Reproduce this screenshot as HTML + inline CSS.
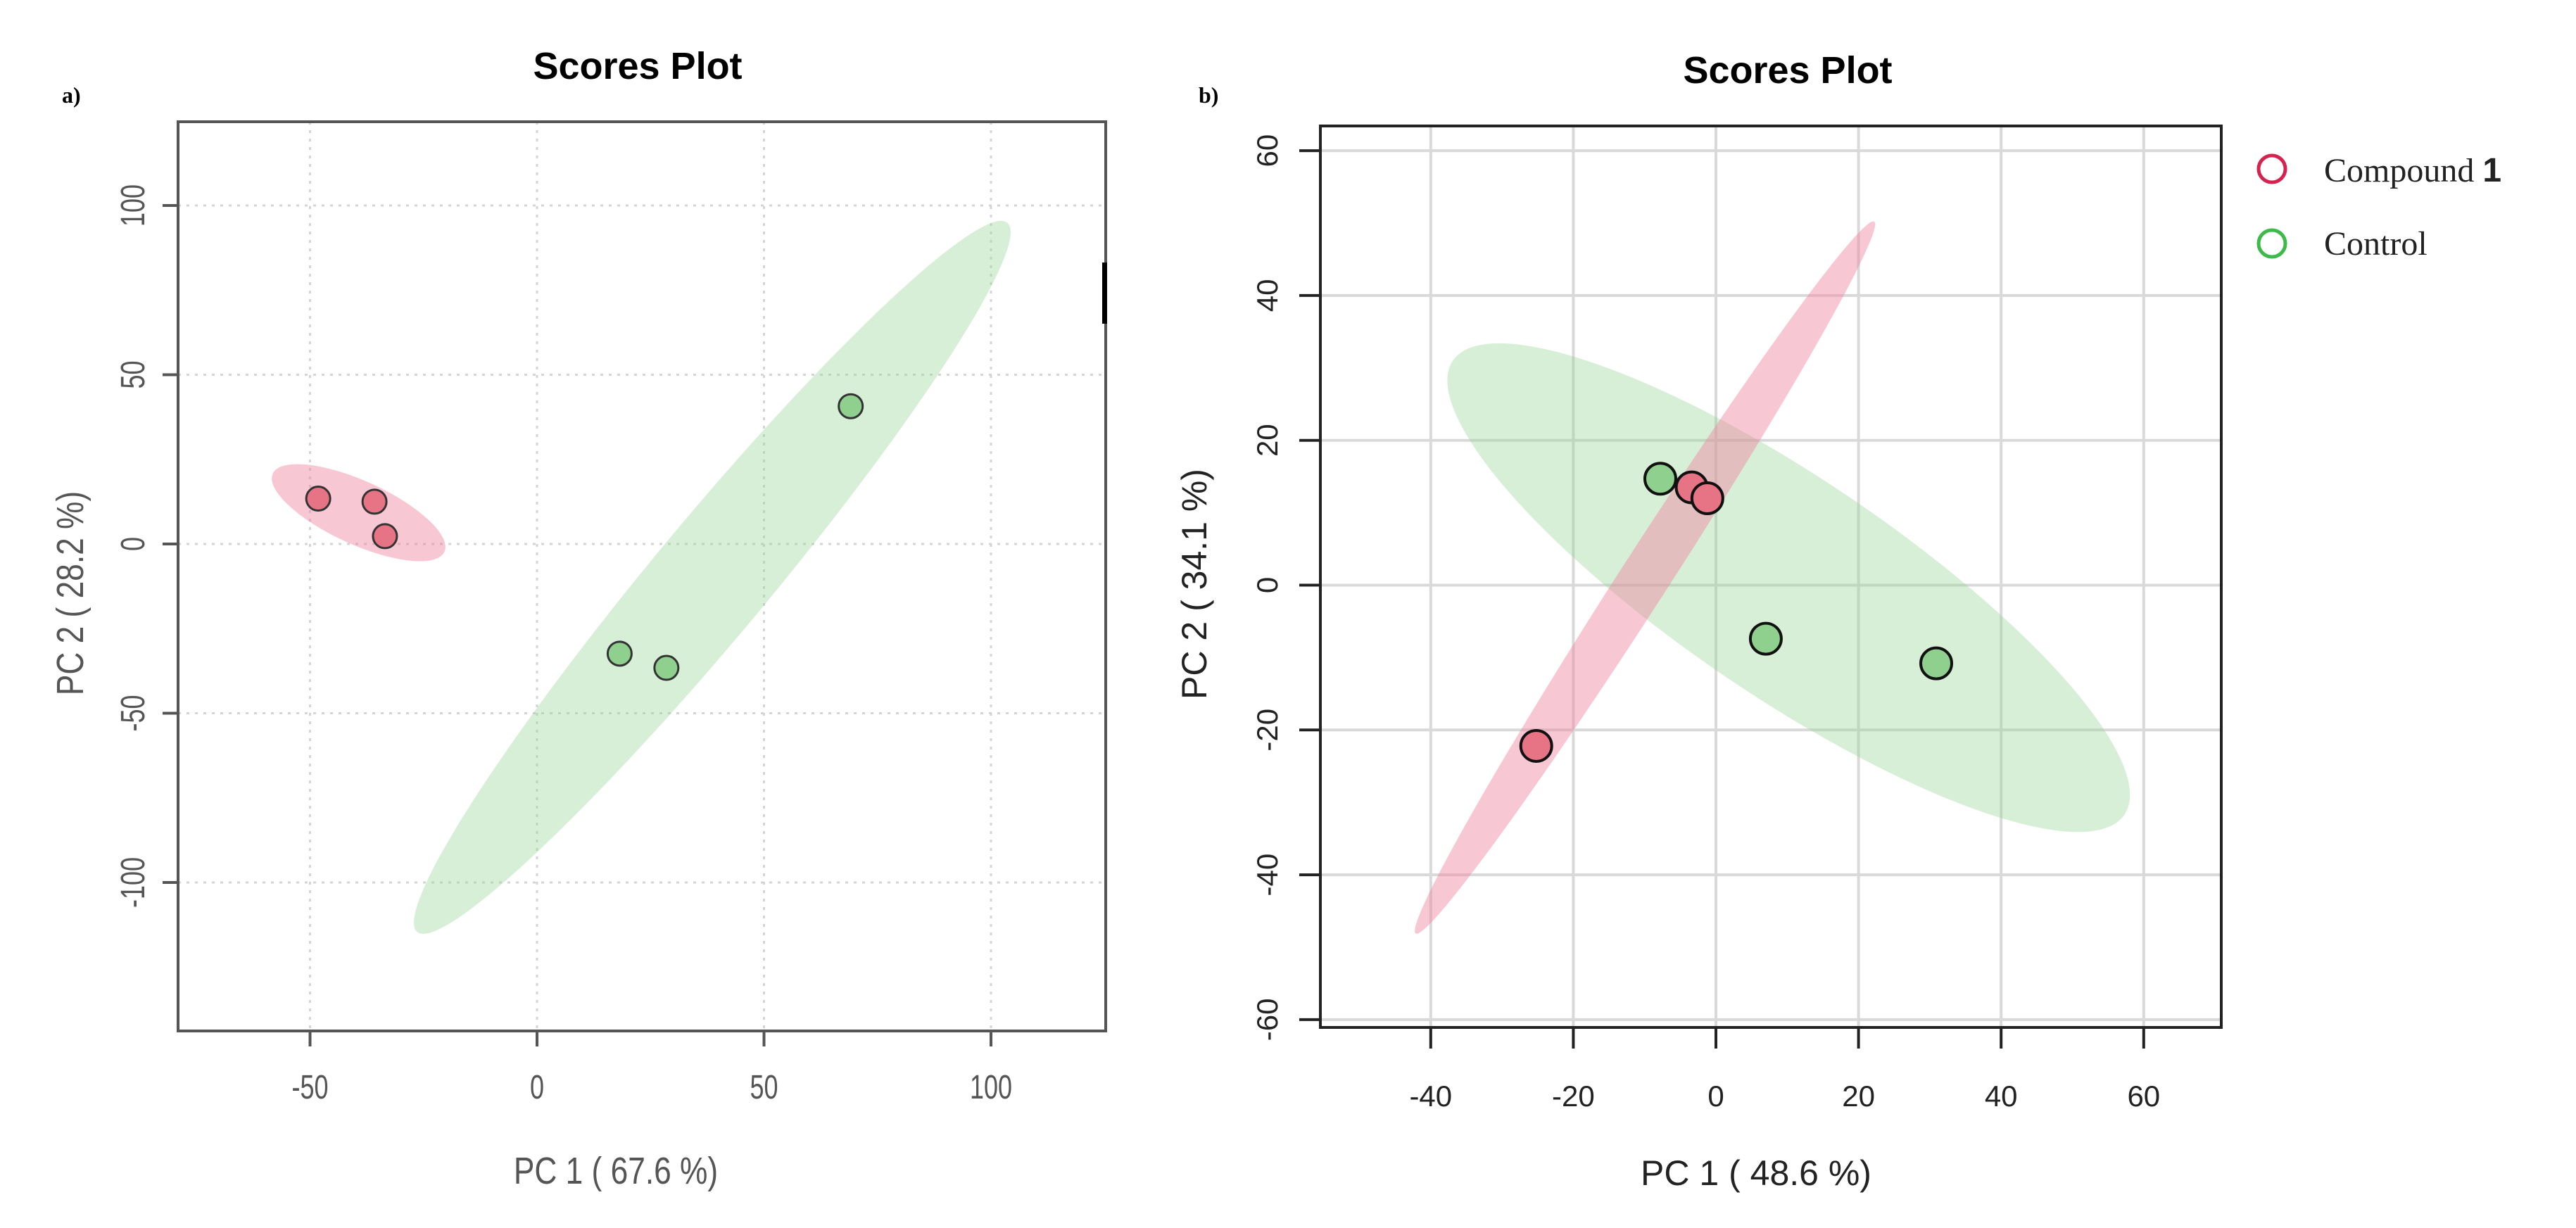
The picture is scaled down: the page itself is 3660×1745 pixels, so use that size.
<!DOCTYPE html>
<html><head><meta charset="utf-8"><style>
html,body{margin:0;padding:0;background:#fff;}
svg{display:block;}
</style></head><body>
<svg id="chart" width="3660" height="1745" viewBox="0 0 3660 1745" xmlns="http://www.w3.org/2000/svg">
<text x="906" y="112" text-anchor="middle" font-family="Liberation Sans, sans-serif" font-weight="bold" font-size="54" fill="#000">Scores Plot</text>
<text x="2540" y="118" text-anchor="middle" font-family="Liberation Sans, sans-serif" font-weight="bold" font-size="54" fill="#000">Scores Plot</text>
<text x="88" y="146" font-family="Liberation Serif, serif" font-weight="bold" font-size="32" fill="#000">a)</text>
<text x="1703" y="146" font-family="Liberation Serif, serif" font-weight="bold" font-size="32" fill="#000">b)</text>
<g id="left"></g>
<g id="right"></g>
<g>
<circle cx="3228" cy="240" r="19" fill="none" stroke="#d6224f" stroke-width="5"/>
<text x="3302" y="258" font-family="Liberation Serif, serif" font-size="48" fill="#222">Compound <tspan font-family="Liberation Sans, sans-serif" font-weight="bold">1</tspan></text>
<circle cx="3228" cy="346" r="19" fill="none" stroke="#3dba4a" stroke-width="5"/>
<text x="3302" y="362" font-family="Liberation Serif, serif" font-size="48" fill="#222">Control</text>
</g>
<rect x="1566" y="373" width="7" height="87" fill="#000"/>
</svg>
<script>
// ---- Left chart data ----
const leftXTicks = [-50, 0, 50, 100];
const leftYTicks = [-100, -50, 0, 50, 100];
const leftCompoundX = [-48.2, -35.8, -33.5];
const leftCompoundY = [13.4, 12.5, 2.3];
const leftControlX = [18.2, 28.5, 69.1];
const leftControlY = [-32.4, -36.6, 40.7];
// ellipse major-axis endpoints in data units
const leftCompoundEllipse = [-58.2, 20.8, -20.4, -2.3];
const leftControlEllipse = [103.6, 94.9, -26.4, -114.6];
// ---- Right chart data ----
const rightXTicks = [-40, -20, 0, 20, 40, 60];
const rightYTicks = [-60, -40, -20, 0, 20, 40, 60];
const rightCompoundX = [-3.4, -1.2, -25.2];
const rightCompoundY = [13.5, 12.0, -22.2];
const rightControlX = [-7.8, 7.0, 30.9];
const rightControlY = [14.7, -7.4, -10.8];
const rightCompoundEllipse = [22.2, 50.2, -42.1, -48.1];
const rightControlEllipse = [-36.9, 31.0, 57.3, -31.7];

const NS = "http://www.w3.org/2000/svg";
function mk(parent, tag, attrs){ const e=document.createElementNS(NS,tag); for(const k in attrs) e.setAttribute(k,attrs[k]); parent.appendChild(e); return e; }

function ellipse(g, sx, sy, ep, halfW, fill, name){
  const x1=sx(ep[0]), y1=sy(ep[1]), x2=sx(ep[2]), y2=sy(ep[3]);
  const cx=(x1+x2)/2, cy=(y1+y2)/2, a=Math.hypot(x2-x1,y2-y1)/2;
  const ang=Math.atan2(y2-y1,x2-x1)*180/Math.PI;
  const e=mk(g,'ellipse',{cx:cx,cy:cy,rx:a,ry:halfW,transform:`rotate(${ang} ${cx} ${cy})`,fill:fill});
  
  
}

// ---- Left ----
(function(){
  const g=document.getElementById('left');
  const L=253,R=1571,T=173,B=1465;
  const sx=v=>763+6.45*v, sy=v=>773-4.81*v;
  for(const t of leftXTicks){
    const l=mk(g,'line',{x1:sx(t),x2:sx(t),y1:T,y2:B,stroke:'#d4d4d4','stroke-width':3,'stroke-dasharray':'4 8'});
    
    
  }
  for(const t of leftYTicks){
    const l=mk(g,'line',{x1:L,x2:R,y1:sy(t),y2:sy(t),stroke:'#d4d4d4','stroke-width':3,'stroke-dasharray':'4 8'});
    
    
  }
  ellipse(g,sx,sy,leftControlEllipse,82,'rgba(150,212,150,0.38)','control-ellipse');
  ellipse(g,sx,sy,leftCompoundEllipse,45,'rgba(240,130,160,0.45)','compound-ellipse');
  leftCompoundX.forEach((v,i)=>{
    const c=mk(g,'circle',{cx:sx(v),cy:sy(leftCompoundY[i]),r:17,fill:'#e77485',stroke:'#333','stroke-width':3});
    
    
  });
  leftControlX.forEach((v,i)=>{
    const c=mk(g,'circle',{cx:sx(v),cy:sy(leftControlY[i]),r:17,fill:'#8fd08f',stroke:'#333','stroke-width':3});
    
    
  });
  const box=mk(g,'rect',{x:L,y:T,width:R-L,height:B-T,fill:'none',stroke:'#555','stroke-width':4});
  
  
  for(const t of leftXTicks){
    mk(g,'line',{x1:sx(t),x2:sx(t),y1:B,y2:B+22,stroke:'#555','stroke-width':4});
    const tx=mk(g,'text',{x:0,y:0,'text-anchor':'middle','font-family':'Liberation Sans, sans-serif','font-size':48,fill:'#555',transform:`translate(${sx(t)},${B+96}) scale(0.75,1)`});
    tx.textContent=t;
    
    
  }
  for(const t of leftYTicks){
    mk(g,'line',{x1:L-22,x2:L,y1:sy(t),y2:sy(t),stroke:'#555','stroke-width':4});
    const tx=mk(g,'text',{x:0,y:0,'text-anchor':'middle','font-family':'Liberation Sans, sans-serif','font-size':48,fill:'#555',transform:`translate(205,${sy(t)}) rotate(-90) scale(0.75,1)`});
    tx.textContent=t;
    
    
  }
  const xt=mk(g,'text',{x:0,y:0,'text-anchor':'middle','font-family':'Liberation Sans, sans-serif','font-size':54,fill:'#555',transform:'translate(875,1682) scale(0.82,1)'});
  xt.textContent='PC 1 ( 67.6 %)';
  
  
  const yt=mk(g,'text',{x:0,y:0,'text-anchor':'middle','font-family':'Liberation Sans, sans-serif','font-size':54,fill:'#555',transform:'translate(118,843) rotate(-90) scale(0.82,1)'});
  yt.textContent='PC 2 ( 28.2 %)';
  
  
})();

// ---- Right ----
(function(){
  const g=document.getElementById('right');
  const L=1876,R=3156,T=179,B=1460;
  const sx=v=>2438+10.13*v, sy=v=>831.5-10.29*v;
  for(const t of rightXTicks){
    const l=mk(g,'line',{x1:sx(t),x2:sx(t),y1:T,y2:B,stroke:'#d9d9d9','stroke-width':4});
    
    
  }
  for(const t of rightYTicks){
    const l=mk(g,'line',{x1:L,x2:R,y1:sy(t),y2:sy(t),stroke:'#d9d9d9','stroke-width':4});
    
    
  }
  ellipse(g,sx,sy,rightControlEllipse,155,'rgba(150,212,150,0.38)','control-ellipse');
  ellipse(g,sx,sy,rightCompoundEllipse,35,'rgba(240,130,160,0.45)','compound-ellipse');
  rightControlX.forEach((v,i)=>{
    const c=mk(g,'circle',{cx:sx(v),cy:sy(rightControlY[i]),r:22,fill:'#8fd08f',stroke:'#111','stroke-width':4});
    
    
  });
  rightCompoundX.forEach((v,i)=>{
    const c=mk(g,'circle',{cx:sx(v),cy:sy(rightCompoundY[i]),r:22,fill:'#e77485',stroke:'#111','stroke-width':4});
    
    
  });
  const box=mk(g,'rect',{x:L,y:T,width:R-L,height:B-T,fill:'none',stroke:'#222','stroke-width':4});
  
  
  for(const t of rightXTicks){
    mk(g,'line',{x1:sx(t),x2:sx(t),y1:B,y2:B+30,stroke:'#222','stroke-width':4});
    const tx=mk(g,'text',{x:sx(t),y:B+112,'text-anchor':'middle','font-family':'Liberation Sans, sans-serif','font-size':42,fill:'#222'});
    tx.textContent=t;
    
    
  }
  for(const t of rightYTicks){
    mk(g,'line',{x1:L-30,x2:L,y1:sy(t),y2:sy(t),stroke:'#222','stroke-width':4});
    const tx=mk(g,'text',{x:0,y:0,'text-anchor':'middle','font-family':'Liberation Sans, sans-serif','font-size':42,fill:'#222',transform:`translate(1815,${sy(t)}) rotate(-90)`});
    tx.textContent=t;
    
    
  }
  const xt=mk(g,'text',{x:2495,y:1684,'text-anchor':'middle','font-family':'Liberation Sans, sans-serif','font-size':50,fill:'#222'});
  xt.textContent='PC 1 ( 48.6 %)';
  
  
  const yt=mk(g,'text',{x:0,y:0,'text-anchor':'middle','font-family':'Liberation Sans, sans-serif','font-size':50,fill:'#222',transform:'translate(1714,830) rotate(-90)'});
  yt.textContent='PC 2 ( 34.1 %)';
  
  
})();
</script>
</body></html>
